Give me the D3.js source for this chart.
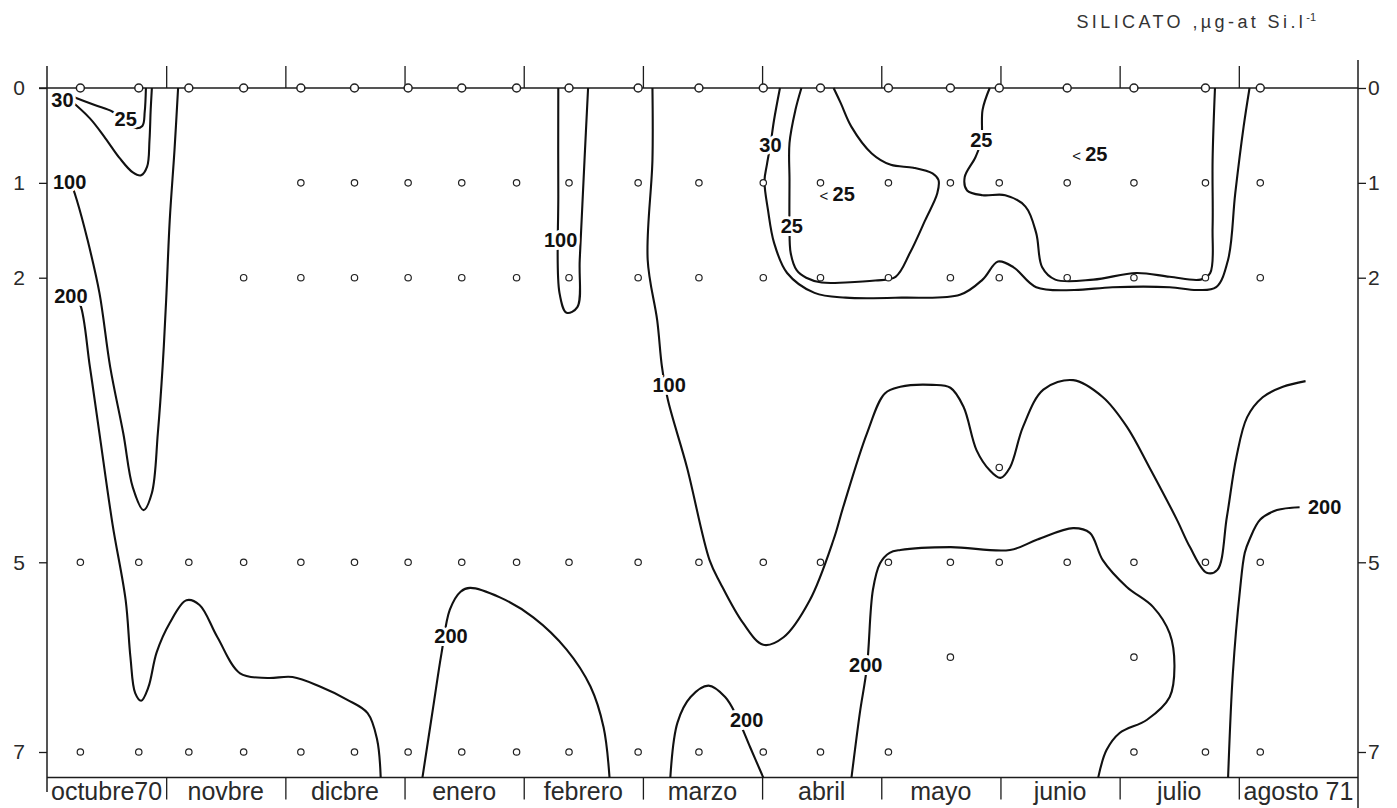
<!DOCTYPE html>
<html>
<head>
<meta charset="utf-8">
<script src="https://cdn.jsdelivr.net/npm/d3@7"></script>
<style>
  html, body { margin: 0; background: #fff; }
  svg { display: block; font-family: "Liberation Sans", Arial, sans-serif; }
</style>
</head>
<body>
<svg id="chart" width="1397" height="808"></svg>
<script>
// x in months since 1 Oct 1970, y = depth (m)
var monthNames = ['octubre70', 'novbre', 'dicbre', 'enero', 'febrero', 'marzo', 'abril', 'mayo', 'junio', 'julio', 'agosto 71'];
var monthBounds = [1, 2, 3, 4, 5, 6, 7, 8, 9, 10];
var depthTicks = [0, 1, 2, 5, 7];

// sampling dates
var sampleMonths = [0.28, 0.77, 1.19, 1.65, 2.13, 2.58, 3.03, 3.48, 3.94, 4.38, 4.96,
  5.47, 6.01, 6.49, 7.06, 7.58, 7.99, 8.56, 9.12, 9.72, 10.18];
// sampled depths and which dates have a sample there
var sampleDepths = [0, 1, 2, 4, 5, 6, 7];
var sampleIdx = [
  [0, 1, 2, 3, 4, 5, 6, 7, 8, 9, 10, 11, 12, 13, 14, 15, 16, 17, 18, 19, 20],
  [4, 5, 6, 7, 8, 9, 10, 11, 12, 13, 14, 15, 16, 17, 18, 19, 20],
  [3, 4, 5, 6, 7, 8, 9, 10, 11, 12, 13, 14, 15, 16, 17, 18, 19, 20],
  [16],
  [0, 1, 2, 3, 4, 5, 6, 7, 8, 9, 10, 11, 12, 13, 14, 15, 16, 17, 18, 19, 20],
  [15, 18],
  [0, 1, 2, 3, 4, 5, 6, 7, 8, 9, 10, 11, 12, 13, 14, 18, 19, 20]
];
var bottomDepth = 7.27;

// isolines [month, depth]
var iso30a = [[0.16, 0.09], [0.36, 0.32], [0.49, 0.53], [0.61, 0.74], [0.72, 0.89], [0.79, 0.92],
  [0.84, 0.83], [0.86, 0.55], [0.87, 0.23], [0.88, 0]];
var iso25a = [[0.19, 0.08], [0.40, 0.18], [0.55, 0.25], [0.65, 0.34], [0.73, 0.42], [0.80, 0.40],
  [0.82, 0.25], [0.83, 0]];
var iso100a = [[0.21, 1.03], [0.25, 1.18], [0.34, 1.60], [0.44, 2.16], [0.53, 2.94], [0.64, 3.64],
  [0.72, 4.21], [0.81, 4.45], [0.88, 4.27], [0.93, 3.64], [0.97, 2.94], [1.00, 2.23],
  [1.03, 1.39], [1.07, 0.65], [1.10, 0]];
var iso200a = [[0.24, 2.23], [0.28, 2.29], [0.36, 2.94], [0.44, 3.64], [0.55, 4.60],
  [0.66, 5.40], [0.70, 6.00], [0.74, 6.38], [0.79, 6.46], [0.85, 6.32], [0.92, 5.95], [1.03, 5.64],
  [1.17, 5.40], [1.28, 5.45], [1.43, 5.79], [1.62, 6.17], [1.85, 6.22], [2.06, 6.21],
  [2.29, 6.31], [2.52, 6.45], [2.69, 6.59], [2.77, 6.87], [2.80, 7.27]];
var iso200b = [[3.15, 7.27], [3.24, 6.53], [3.31, 5.96], [3.38, 5.50], [3.47, 5.31], [3.55, 5.27],
  [3.80, 5.37], [4.08, 5.58], [4.36, 5.92], [4.56, 6.31], [4.67, 6.74], [4.72, 7.27]];
var iso200c = [[5.23, 7.27], [5.29, 6.69], [5.40, 6.42], [5.55, 6.30], [5.69, 6.42], [5.79, 6.63],
  [5.90, 6.95], [6.01, 7.27]];
var iso100b = [[4.29, 0], [4.29, 1.11], [4.30, 2.16], [4.36, 2.37], [4.45, 2.31], [4.47, 1.81],
  [4.51, 0.76], [4.54, 0]];
var iso100c = [[5.08, 0], [5.08, 0.76], [5.04, 1.81], [5.12, 2.45], [5.16, 2.94], [5.21, 3.29],
  [5.37, 4.00], [5.56, 4.98], [5.65, 5.22], [5.84, 5.64], [6.01, 5.87], [6.18, 5.79],
  [6.40, 5.40], [6.60, 4.76], [6.68, 4.42], [6.88, 3.64], [7.03, 3.22], [7.16, 3.15],
  [7.43, 3.13], [7.58, 3.16], [7.69, 3.36], [7.80, 3.82], [7.91, 4.03], [8.00, 4.11],
  [8.08, 4.00], [8.19, 3.57], [8.36, 3.18], [8.61, 3.08], [8.86, 3.26], [9.06, 3.57],
  [9.25, 4.00], [9.48, 4.55], [9.59, 4.84], [9.73, 5.11], [9.82, 5.08], [9.90, 4.52],
  [9.98, 3.89], [10.07, 3.47], [10.20, 3.26], [10.37, 3.15], [10.56, 3.09]];
var iso200d = [[6.75, 7.27], [6.82, 6.59], [6.88, 6.10], [6.93, 5.29], [6.99, 5.01], [7.07, 4.90],
  [7.16, 4.87], [7.58, 4.84], [8.08, 4.87], [8.31, 4.76], [8.61, 4.64], [8.75, 4.69],
  [8.86, 4.98], [9.06, 5.26], [9.28, 5.47], [9.42, 5.75], [9.46, 6.10], [9.42, 6.42],
  [9.23, 6.66], [9.00, 6.80], [8.89, 6.98], [8.82, 7.27]];
var iso200e = [[9.91, 7.27], [9.95, 6.17], [10.01, 5.29], [10.05, 4.90], [10.09, 4.76],
  [10.18, 4.55], [10.32, 4.45], [10.51, 4.42]];
var iso30b = [[6.15, 0], [6.10, 0.34], [6.07, 0.60], [6.04, 0.81], [6.02, 0.98], [6.05, 1.29],
  [6.10, 1.63], [6.21, 1.95], [6.44, 2.16], [6.70, 2.21], [7.17, 2.21], [7.66, 2.18],
  [7.85, 2.02], [7.98, 1.83], [8.11, 1.89], [8.30, 2.10], [8.62, 2.13], [8.94, 2.10],
  [9.42, 2.10], [9.65, 2.13], [9.81, 2.10], [9.91, 1.81], [9.97, 1.11], [10.04, 0.41], [10.09, 0]];
var iso25b = [[6.33, 0], [6.28, 0.23], [6.23, 0.58], [6.23, 0.97], [6.23, 1.45], [6.24, 1.74],
  [6.29, 1.92], [6.37, 2.00], [6.50, 2.05], [6.70, 2.05], [6.95, 2.03], [7.12, 1.99],
  [7.24, 1.74], [7.37, 1.39], [7.47, 1.11], [7.48, 0.97], [7.43, 0.90], [7.27, 0.84],
  [7.08, 0.81], [6.92, 0.69], [6.75, 0.41], [6.66, 0.16], [6.60, 0]];
var iso25c = [[7.91, 0], [7.85, 0.23], [7.84, 0.55], [7.79, 0.73], [7.70, 0.94], [7.72, 1.08],
  [7.85, 1.13], [8.04, 1.13], [8.21, 1.25], [8.30, 1.53], [8.35, 1.89], [8.46, 2.02],
  [8.78, 2.02], [9.14, 1.95], [9.42, 1.99], [9.68, 2.02], [9.76, 1.95], [9.78, 1.47],
  [9.78, 0.76], [9.80, 0]];
var isolines = [iso30a, iso25a, iso100a, iso200a, iso200b, iso200c, iso100b, iso100c,
  iso200d, iso200e, iso30b, iso25b, iso25c];

// isoline labels
var labelText = ['30', '25', '100', '200', '100', '100', '200', '200', '200', '200',
  '30', '25', '< 25', '25', '< 25'];
var labelMonth = [0.13, 0.66, 0.19, 0.20, 4.31, 5.22, 3.39, 5.87, 6.87, 10.72,
  6.07, 6.25, 6.63, 7.84, 8.75];
var labelDepth = [0.12, 0.32, 0.99, 2.19, 1.60, 3.13, 5.77, 6.66, 6.08, 4.42,
  0.60, 1.45, 1.12, 0.55, 0.69];

var svg = d3.select('#chart');
var ink = '#1c1c1c';
var x = d3.scaleLinear().domain([0, 11]).range([47, 1358]);
var y = d3.scaleLinear().domain([0, 7]).range([88, 752]);
var yBot = y(bottomDepth);

// title
var title = svg.append('text')
  .attr('x', 1316).attr('y', 28)
  .attr('text-anchor', 'end')
  .attr('fill', '#333').style('font-size', '18px').style('letter-spacing', '3.4px')
  .text('SILICATO ,µg-at Si.l');
title.append('tspan').attr('dy', -7).style('font-size', '11px').style('letter-spacing', '0px').text('-1');

// frame
svg.append('line').attr('x1', x(0)).attr('x2', x(0)).attr('y1', 66).attr('y2', 792)
  .attr('stroke', ink).attr('stroke-width', 1.5);
svg.append('line').attr('x1', x(11)).attr('x2', x(11)).attr('y1', 60).attr('y2', 808)
  .attr('stroke', ink).attr('stroke-width', 1.5);
svg.append('line').attr('x1', x(0) - 8).attr('x2', x(11)).attr('y1', y(0)).attr('y2', y(0))
  .attr('stroke', ink).attr('stroke-width', 1.5);
svg.append('line').attr('x1', x(0)).attr('x2', x(11)).attr('y1', yBot).attr('y2', yBot)
  .attr('stroke', ink).attr('stroke-width', 1.5);

// month ticks on top and separators under the bottom line
svg.append('g').attr('transform', 'translate(0,' + y(0) + ')')
  .call(d3.axisTop(x).tickValues(monthBounds).tickSize(22).tickFormat(''))
  .call(function (g) {
    g.select('.domain').remove();
    g.selectAll('.tick line').attr('stroke', ink).attr('stroke-width', 1.3);
  });
svg.append('g').attr('transform', 'translate(0,' + yBot + ')')
  .call(d3.axisBottom(x).tickValues(monthBounds).tickSize(22).tickFormat(''))
  .call(function (g) {
    g.select('.domain').remove();
    g.selectAll('.tick line').attr('stroke', ink).attr('stroke-width', 1.3);
  });
svg.append('g').selectAll('text').data(monthNames).enter().append('text')
  .attr('x', function (d, i) { return x(i + 0.5); })
  .attr('y', 800)
  .attr('text-anchor', 'middle')
  .attr('fill', '#2a2a2a').style('font-size', '25px')
  .text(function (d) { return d; });

// depth axes
function styleDepth(g) {
  g.select('.domain').remove();
  g.selectAll('.tick line').attr('stroke', ink).attr('stroke-width', 1.3);
  g.selectAll('text').attr('fill', '#2a2a2a').style('font-size', '21px')
    .style('font-family', '"Liberation Sans", Arial, sans-serif');
}
svg.append('g').attr('transform', 'translate(' + x(0) + ',0)')
  .call(d3.axisLeft(y).tickValues(depthTicks).tickFormat(d3.format('d')).tickSize(8).tickPadding(14))
  .call(styleDepth);
svg.append('g').attr('transform', 'translate(' + x(11) + ',0)')
  .call(d3.axisRight(y).tickValues(depthTicks).tickFormat(d3.format('d')).tickSize(8).tickPadding(2))
  .call(styleDepth);

// isolines
var line = d3.line()
  .x(function (d) { return x(d[0]); })
  .y(function (d) { return y(d[1]); })
  .curve(d3.curveCatmullRom.alpha(0.5));
svg.append('g').selectAll('path').data(isolines).enter().append('path')
  .attr('d', line)
  .attr('fill', 'none')
  .attr('stroke', '#111')
  .attr('stroke-width', 2.1)
  .attr('stroke-linejoin', 'round');

// sampling points
var pts = [];
sampleDepths.forEach(function (dep, k) {
  sampleIdx[k].forEach(function (i) { pts.push([sampleMonths[i], dep]); });
});
svg.append('g').selectAll('circle').data(pts).enter().append('circle')
  .attr('cx', function (d) { return x(d[0]); })
  .attr('cy', function (d) { return y(d[1]); })
  .attr('r', function (d) { return d[1] === 0 ? 4 : 3.2; })
  .attr('fill', '#fff')
  .attr('stroke', '#222')
  .attr('stroke-width', function (d) { return d[1] === 0 ? 1.5 : 1.2; });

// isoline labels with white halo
var lab = svg.append('g').selectAll('text').data(labelText).enter().append('text')
  .attr('x', function (d, i) { return x(labelMonth[i]); })
  .attr('y', function (d, i) { return y(labelDepth[i]); })
  .attr('dy', '0.36em')
  .attr('text-anchor', 'middle')
  .attr('fill', '#111')
  .attr('stroke', '#fff').attr('stroke-width', 6)
  .style('paint-order', 'stroke')
  .style('font-size', '20px').style('font-weight', 'bold');
lab.each(function (d) {
  var t = d3.select(this);
  if (d.charAt(0) === '<') {
    t.append('tspan').style('font-weight', 'normal').style('font-size', '15px').text('< ');
    t.append('tspan').text(d.slice(2));
  } else {
    t.text(d);
  }
});
</script>
</body>
</html>
